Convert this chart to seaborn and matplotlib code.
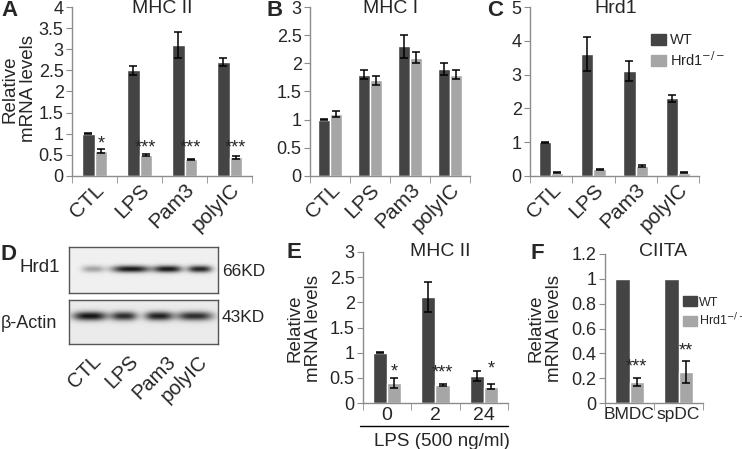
import numpy as np
import pandas as pd
import seaborn as sns
import matplotlib.pyplot as plt
from matplotlib.patches import Patch
from matplotlib.lines import Line2D

# data
stim = ["CTL", "LPS", "Pam3", "polyIC"]
genos = ["WT", "Hrd1-/-"]

mhc2_wt = [1.0, 2.5, 3.1, 2.7]
mhc2_wt_err = [0.01, 0.1, 0.3, 0.1]
mhc2_ko = [0.6, 0.5, 0.4, 0.44]
mhc2_ko_err = [0.05, 0.02, 0.01, 0.03]
mhc2_stars = ["*", "***", "***", "***"]

mhc1_wt = [1.0, 1.8, 2.3, 1.9]
mhc1_wt_err = [0.01, 0.08, 0.2, 0.1]
mhc1_ko = [1.1, 1.7, 2.1, 1.8]
mhc1_ko_err = [0.05, 0.08, 0.1, 0.08]

hrd1_wt = [1.0, 3.6, 3.1, 2.3]
hrd1_wt_err = [0.01, 0.5, 0.3, 0.1]
hrd1_ko = [0.1, 0.2, 0.3, 0.1]
hrd1_ko_err = [0.01, 0.02, 0.04, 0.01]

lps_time = ["0", "2", "24"]
lps_wt = [1.0, 2.1, 0.53]
lps_wt_err = [0.005, 0.3, 0.1]
lps_ko = [0.4, 0.35, 0.32]
lps_ko_err = [0.1, 0.02, 0.05]
lps_stars = ["*", "***", "*"]

cells = ["BMDC", "spDC"]
ciita_wt = [1.0, 1.0]
ciita_wt_err = [0.0, 0.0]
ciita_ko = [0.17, 0.25]
ciita_ko_err = [0.03, 0.09]
ciita_stars = ["***", "**"]

# western blot bands (relative intensity per lane)
blot_lanes = ["CTL", "LPS", "Pam3", "polyIC"]
hrd1_band_x = [93, 131, 168, 200]
hrd1_band_w = [11, 19, 14, 12]
hrd1_band_int = [0.3, 0.85, 0.85, 0.8]
actin_band_x = [90, 124, 159, 195]
actin_band_w = [17, 13, 14, 18]
actin_band_int = [0.85, 0.75, 0.8, 0.75]

DARK = "#444444"
LIGHT = "#a6a6a6"
AXC = "#8c8c8c"

sns.set_style("white")
plt.rcParams["font.family"] = ["Liberation Sans", "DejaVu Sans"]

W, H = 742, 449
fig = plt.figure(figsize=(W / 100, H / 100), dpi=100)


def px_axes(x0, y0, x1, y1):
    return fig.add_axes([x0 / W, 1 - y1 / H, (x1 - x0) / W, (y1 - y0) / H])


def ftext(x, y, s, **kw):
    return fig.text(x / W, 1 - y / H, s, **kw)


def bar_panel(ax, cats, wt, wt_err, ko, ko_err, ymax, ystep, width, stars=None, star_y=None,
              rot=True, xsize=15):
    df = pd.DataFrame({
        "cat": cats * 2,
        "geno": [genos[0]] * len(cats) + [genos[1]] * len(cats),
        "val": wt + ko,
    })
    sns.barplot(data=df, x="cat", y="val", hue="geno", palette=[DARK, LIGHT],
                width=width, errorbar=None, legend=False, ax=ax, saturation=1)
    for cont, errs in zip(ax.containers, [wt_err, ko_err]):
        for bar, e in zip(cont, errs):
            xc = bar.get_x() + bar.get_width() / 2
            if e > 0:
                ax.errorbar(xc, bar.get_height(), yerr=e, color="black", lw=1.1,
                            capsize=3, capthick=1.1)
    if stars is not None:
        for bar, s, yy in zip(ax.containers[1], stars, star_y):
            xc = bar.get_x() + bar.get_width() / 2
            ax.text(xc, yy, s, ha="center", va="bottom", fontsize=13)
    n = len(cats)
    ax.set_xlim(-0.5, n - 0.5)
    ax.set_ylim(0, ymax)
    ticks = np.arange(0, ymax + 1e-9, ystep)
    ax.set_yticks(ticks)
    ax.set_yticklabels([f"{v:g}" for v in ticks])
    ax.set_xticks(np.arange(-0.5, n, 1), minor=True)
    ax.tick_params(axis="x", which="major", length=0, labelsize=xsize, pad=3)
    ax.tick_params(axis="x", which="minor", length=5, color=AXC, direction="out", bottom=True)
    ax.tick_params(axis="y", length=4, color=AXC, direction="out", left=True, labelsize=13, pad=2)
    if rot:
        for lab in ax.get_xticklabels():
            lab.set_rotation(45)
            lab.set_ha("right")
            lab.set_rotation_mode("anchor")
    sns.despine(ax=ax)
    for sp in ["left", "bottom"]:
        ax.spines[sp].set_color(AXC)
        ax.spines[sp].set_linewidth(1)
    ax.set_xlabel("")
    ax.set_ylabel("")


def ylab(x, y):
    ftext(x, y, "Relative\nmRNA levels", rotation=90, ha="center", va="center",
          fontsize=13.5, linespacing=1.1)


# A
axA = px_axes(72, 7, 252, 176)
bar_panel(axA, stim, mhc2_wt, mhc2_wt_err, mhc2_ko, mhc2_ko_err, 4, 0.5, 0.56,
          stars=mhc2_stars, star_y=[0.55, 0.47, 0.47, 0.47])
ftext(162, 0, "MHC II", ha="center", va="top", fontsize=14)
ylab(19, 89)

# B
axB = px_axes(310, 7, 470, 176)
bar_panel(axB, stim, mhc1_wt, mhc1_wt_err, mhc1_ko, mhc1_ko_err, 3, 0.5, 0.58)
ftext(391, 0, "MHC I", ha="center", va="top", fontsize=14)

# C
axC = px_axes(530, 7, 699, 176)
bar_panel(axC, stim, hrd1_wt, hrd1_wt_err, hrd1_ko, hrd1_ko_err, 5, 1, 0.58)
ftext(616, 0, "Hrd1", ha="center", va="top", fontsize=14)
handles = [Patch(color=DARK, label="WT"), Patch(color=LIGHT, label="Hrd1$^{-/-}$")]
fig.legend(handles=handles, loc="upper left", bbox_to_anchor=(644 / W, 1 - 26 / H), frameon=False,
           fontsize=10.5, handlelength=1.0, handleheight=0.8, handletextpad=0.25, labelspacing=0.2,
           borderpad=0)

# D - western blot
def blot(ax, x0, x1, y0, y1, bx, bw, bi, yc, th, bg):
    xs = np.linspace(x0, x1, 300)
    ys = np.linspace(y0, y1, 100)
    X, Y = np.meshgrid(xs, ys)
    img = np.full(X.shape, bg)
    for c, w, a in zip(bx, bw, bi):
        g = a * np.exp(-(np.abs(X - c) / w) ** 3) * np.exp(-((Y - yc) / th) ** 2)
        img = img - g
    ax.imshow(np.clip(img, 0, 1), cmap="gray", vmin=0, vmax=1, extent=(x0, x1, y1, y0),
              aspect="auto", interpolation="bilinear")
    ax.set_xlim(x0, x1)
    ax.set_ylim(y1, y0)
    ax.set_xticks([])
    ax.set_yticks([])
    for sp in ax.spines.values():
        sp.set_visible(True)
        sp.set_color("#555555")
        sp.set_linewidth(1)


axD1 = px_axes(69, 247, 218, 293)
blot(axD1, 69, 218, 247, 293, hrd1_band_x, hrd1_band_w, hrd1_band_int, 269, 3.5, 0.94)
axD2 = px_axes(69, 300, 218, 344)
blot(axD2, 69, 218, 300, 344, actin_band_x, actin_band_w, actin_band_int, 316, 4.5, 0.92)
ftext(60, 267, "Hrd1", ha="right", va="center", fontsize=13.5)
ftext(1, 323, "\u03b2-Actin", ha="left", va="center", fontsize=13)
ftext(222, 271, "66KD", ha="left", va="center", fontsize=12.5)
ftext(222, 317, "43KD", ha="left", va="center", fontsize=12.5)
for lab, xc in zip(blot_lanes, hrd1_band_x):
    ftext(xc - 2, 352, lab, rotation=45, ha="right", va="top",
          rotation_mode="anchor", fontsize=14.5)

# E
axE = px_axes(363, 252, 508, 403)
bar_panel(axE, lps_time, lps_wt, lps_wt_err, lps_ko, lps_ko_err, 3, 0.5, 0.58,
          stars=lps_stars, star_y=[0.45, 0.42, 0.5], rot=False, xsize=14)
ftext(440, 243, "MHC II", ha="center", va="top", fontsize=14)
ylab(304, 328)
fig.add_artist(Line2D([360 / W, 508 / W], [1 - 426 / H, 1 - 426 / H], color="black", lw=1))
ftext(442, 442, "LPS (500 ng/ml)", ha="center", va="center", fontsize=13.5)

# F
axF = px_axes(605, 254, 703, 403)
bar_panel(axF, cells, ciita_wt, ciita_wt_err, ciita_ko, ciita_ko_err, 1.2, 0.2, 0.58,
          stars=ciita_stars, star_y=[0.22, 0.35], rot=False, xsize=12.5)
ftext(663, 243, "CIITA", ha="center", va="top", fontsize=14)
ylab(545, 328)
fig.legend(handles=handles, loc="upper left", bbox_to_anchor=(677 / W, 1 - 290 / H), frameon=False,
           fontsize=9, handlelength=1.1, handleheight=0.85, handletextpad=0.15, labelspacing=0.25,
           borderpad=0)

# panel letters
for lab, x, y in [("A", 1, 0), ("B", 267, 0), ("C", 487, 0), ("D", 1, 244), ("E", 287, 242),
                  ("F", 530, 243)]:
    ftext(x, y, lab, ha="left", va="top", fontsize=16, fontweight="bold")

fig.savefig("out.png", dpi=100)
